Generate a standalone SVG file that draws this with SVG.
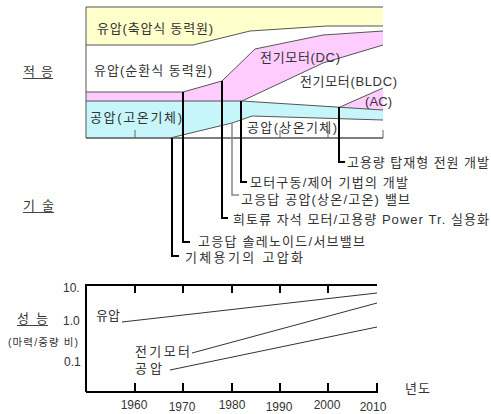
<svg xmlns="http://www.w3.org/2000/svg" width="491" height="414" viewBox="0 0 491 414">
<style>
text{font-family:"Liberation Sans","Noto Sans CJK KR",sans-serif;font-size:13px;fill:#333}
.sm{font-size:10.5px}
.nm{font-size:12px}
.bd{fill:none;stroke:#555;stroke-width:1}
.tk{stroke:#666;stroke-width:1}
.cn{fill:none;stroke:#000;stroke-width:2}
.cg{fill:none;stroke:#888;stroke-width:1.5}
.ax{fill:none;stroke:#000;stroke-width:2}
.ln{fill:none;stroke:#333;stroke-width:1}
.ul{stroke:#444;stroke-width:1}
</style>
<rect width="491" height="414" fill="#fff"/>
<g id="chart-bands">
<polygon points="86,7 383,7 383,26 327,26 250,31 193,45 86,45" fill="#FFFFCC"/>
<polygon points="86,92 183,92 222,81 255,49 323,35 383,31 383,45 323,63 242,101 86,101" fill="#FFCCFF"/>
<polygon points="86,101 242,101 383,110 383,120 252,116 232,123 170,138 86,138" fill="#C6F6FA"/>
<polygon points="340,107 383,88 383,110" fill="#FFCCFF"/>
<polyline class="bd" points="86,7 383,7"/>
<polyline class="bd" points="86,7 86,138"/>
<polyline class="bd" points="86,45 193,45 250,31 327,26 383,26"/>
<polyline class="bd" points="86,92 183,92 222,81 255,49 323,35 383,31"/>
<polyline class="bd" points="242,101 323,63 383,45"/>
<polyline class="bd" points="86,101 242,101 383,110"/>
<polyline class="bd" points="340,107 383,88"/>
<polyline class="bd" points="170,138 232,123 252,116 383,120"/>
<line x1="86" y1="138" x2="383" y2="138" stroke="#555" stroke-width="1.5"/>
<line class="tk" x1="135" y1="130" x2="135" y2="138"/>
<line class="tk" x1="280" y1="130" x2="280" y2="138"/>
<line class="tk" x1="328" y1="130" x2="328" y2="138"/>
<line class="tk" x1="383" y1="130" x2="383" y2="138"/>
</g>
<g id="band-labels">
<text x="97" y="32.5" textLength="116">유압(축압식 동력원)</text>
<text x="94" y="74.5" textLength="118">유압(순환식 동력원)</text>
<text x="90" y="121.5" textLength="92">공압(고온기체)</text>
<text x="260" y="61.5" textLength="80">전기모터(DC)</text>
<text x="300" y="86" textLength="97">전기모터(BLDC)</text>
<text x="365" y="106" textLength="27">(AC)</text>
<text x="247" y="131.5" textLength="90">공압(상온기체)</text>
</g>
<g id="row-labels">
<text x="23" y="76" textLength="30">적 응</text>
<line class="ul" x1="23" y1="78.5" x2="53" y2="78.5"/>
<text x="23" y="210" textLength="31">기 술</text>
<line class="ul" x1="23" y1="212.5" x2="54" y2="212.5"/>
<text x="17" y="323" textLength="31">성 능</text>
<line class="ul" x1="17" y1="325.5" x2="48" y2="325.5"/>
<text class="sm" x="8" y="346" textLength="70">(마력/중량 비)</text>
</g>
<g id="connectors">
<polyline class="cn" points="339,107 339,162 345,162"/>
<polyline class="cn" points="241,101 241,182 247,182"/>
<polyline class="cg" points="232,123 232,195 239,195"/>
<polyline class="cn" points="222,81 222,218 228,218"/>
<polyline class="cn" points="183,92 183,242 190,242"/>
<polyline class="cn" points="172,138 172,256 179,256"/>
</g>
<g id="tech-labels">
<text x="347" y="167" textLength="142">고용량 탑재형 전원 개발</text>
<text x="250" y="186.5" textLength="158">모터구동/제어 기법의 개발</text>
<text x="241" y="203.5" textLength="169">고응답 공압(상온/고온) 밸브</text>
<text x="233" y="223.5" textLength="256">희토류 자석 모터/고용량 Power Tr. 실용화</text>
<text x="198" y="245.5" textLength="167">고응답 솔레노이드/서브밸브</text>
<text x="185" y="261.5" textLength="118">기체용기의 고압화</text>
</g>
<g id="perf-chart">
<polyline class="ax" points="86,285 377,285"/>
<polyline class="ax" points="86,284 86,392"/>
<polyline class="ax" points="86,392 377,392 377,383"/>
<path class="ax" d="M135,285V293M183,285V293M232,285V293M280,285V293M328,285V293"/>
<path class="ax" d="M135,392V383M183,392V383M232,392V383M280,392V383M328,392V383"/>
<line class="ln" x1="122" y1="322" x2="377" y2="293"/>
<line class="ln" x1="192" y1="353" x2="377" y2="303"/>
<line class="ln" x1="170" y1="370" x2="377" y2="327"/>
<text x="96" y="320" textLength="24">유압</text>
<text x="135" y="356" textLength="55">전기모터</text>
<text x="135" y="373" textLength="27">공압</text>
<text class="nm" x="63" y="292">10.</text>
<text class="nm" x="63" y="325">1.0</text>
<text class="nm" x="64" y="366">0.1</text>
<text class="nm" x="134" y="409" text-anchor="middle">1960</text>
<text class="nm" x="182" y="411" text-anchor="middle">1970</text>
<text class="nm" x="232" y="409" text-anchor="middle">1980</text>
<text class="nm" x="279" y="411" text-anchor="middle">1990</text>
<text class="nm" x="327" y="409" text-anchor="middle">2000</text>
<text class="nm" x="373" y="411" text-anchor="middle">2010</text>
<text x="405" y="393" textLength="25">년도</text>
</g>
</svg>
